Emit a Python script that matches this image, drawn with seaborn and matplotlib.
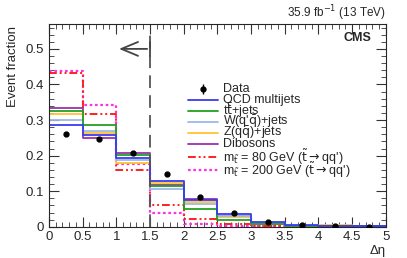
import numpy as np
import pandas as pd
import matplotlib
matplotlib.use("Agg")
import matplotlib.pyplot as plt
import seaborn as sns

sns.set_style("ticks")
plt.rcParams['font.family'] = ['Liberation Sans', 'DejaVu Sans']
plt.rcParams['mathtext.fontset'] = 'dejavusans'

# bin edges in delta eta
edges = [0, 0.5, 1.0, 1.5, 2.0, 2.5, 3.0, 3.5, 4.0, 4.5, 5.0]

qcd = [0.286, 0.257, 0.194, 0.130, 0.076, 0.037, 0.014, 0.006, 0.001, 0.001]
ttbar = [0.325, 0.286, 0.203, 0.115, 0.051, 0.019, 0.008, 0.002, 0.001, 0.001]
wjets = [0.300, 0.270, 0.189, 0.107, 0.064, 0.030, 0.010, 0.003, 0.001, 0.001]
zjets = [0.318, 0.265, 0.180, 0.123, 0.069, 0.028, 0.009, 0.003, 0.005, 0.001]
dibosons = [0.333, 0.250, 0.207, 0.118, 0.079, 0.030, 0.009, 0.002, 0.001, 0.001]
stop80 = [0.432, 0.318, 0.161, 0.062, 0.022, 0.007, 0.002, 0.001, 0.000, 0.000]
stop200 = [0.438, 0.343, 0.176, 0.040, 0.008, 0.003, 0.001, 0.000, 0.000, 0.000]

data_x = [0.25, 0.75, 1.25, 1.75, 2.25, 2.75, 3.25, 3.75, 4.25, 4.75]
data_y = [0.262, 0.246, 0.206, 0.147, 0.084, 0.040, 0.014, 0.004, 0.001, 0.000]
data_err = [0.003, 0.003, 0.003, 0.003, 0.002, 0.002, 0.001, 0.001, 0.001, 0.001]

series = [
    ("QCD multijets", qcd, "#3a3af0", "-", 1.3),
    (r"t$\bar{\mathrm{t}}$+jets", ttbar, "#22a022", "-", 1.3),
    (r"W(q'$\bar{\mathrm{q}}$)+jets", wjets, "#9db8e8", "-", 1.3),
    (r"Z(q$\bar{\mathrm{q}}$)+jets", zjets, "#ffc433", "-", 1.3),
    ("Dibosons", dibosons, "#9a33aa", "-", 1.3),
    (r"m$_{\tilde{\mathrm{t}}}$ = 80 GeV ($\tilde{\mathrm{t}}\rightarrow$qq')", stop80, "#ff2020", (0, (4, 1.5, 1, 1.5, 1, 1.5)), 1.4),
    (r"m$_{\tilde{\mathrm{t}}}$ = 200 GeV ($\tilde{\mathrm{t}}\rightarrow$qq')", stop200, "#ff33dd", (0, (1.2, 1.2)), 1.6),
]

fig, ax = plt.subplots(figsize=(4.07, 2.58), dpi=100)
fig.subplots_adjust(left=0.120, right=0.948, top=0.907, bottom=0.121)

centers = [(a + b) / 2 for a, b in zip(edges[:-1], edges[1:])]
for label, vals, col, ls, lw in series[::-1]:
    df = pd.DataFrame({"x": centers, "w": vals})
    sns.histplot(data=df, x="x", weights="w", bins=edges, element="step",
                 fill=False, color=col, linestyle=ls, linewidth=lw, ax=ax)

ax.errorbar(data_x, data_y, yerr=data_err, fmt="o", color="black",
            markersize=3.5, elinewidth=1, capsize=0, zorder=10)

# selection cut and arrow
ax.plot([1.5, 1.5], [0, 0.553], color="#555555", linestyle=(0, (7, 4)), linewidth=1.3)
ax.annotate("", xy=(1.0, 0.5), xytext=(1.5, 0.5),
            arrowprops=dict(arrowstyle="->,head_length=1.2,head_width=0.5",
                            color="#444444", lw=1.3))
ax.plot([1.5, 1.5], [0.48, 0.52], color="#444444", linewidth=1.3)

# legend drawn by hand so the rows are evenly spaced like the ROOT original
tr = ax.transAxes
lx0, lx1, tx = 0.413, 0.502, 0.517
rows_y = [0.680, 0.626, 0.572, 0.518, 0.464, 0.410, 0.345, 0.281]
ax.errorbar([(lx0 + lx1) / 2], [rows_y[0]], yerr=[0.025], fmt="o", color="black",
            markersize=3.5, elinewidth=1, capsize=0, transform=tr, clip_on=False)
ax.text(tx, rows_y[0], "Data", transform=tr, va="center", ha="left", fontsize=9)
for (label, vals, col, ls, lw), yy in zip(series, rows_y[1:]):
    ax.plot([lx0, lx1], [yy, yy], color=col, linestyle=ls, linewidth=lw,
            transform=tr, clip_on=False)
    ax.text(tx, yy, label, transform=tr, va="center", ha="left", fontsize=9)

ax.set_xlim(0, 5)
ax.set_ylim(0, 0.57)
ax.set_xticks(np.arange(0, 5.01, 0.5))
ax.set_xticklabels(["0", "0.5", "1", "1.5", "2", "2.5", "3", "3.5", "4", "4.5", "5"])
ax.set_yticks([0, 0.1, 0.2, 0.3, 0.4, 0.5])
ax.set_yticklabels(["0", "0.1", "0.2", "0.3", "0.4", "0.5"])
ax.set_xticks(np.arange(0, 5.01, 0.1), minor=True)
ax.set_yticks(np.arange(0, 0.57, 0.02), minor=True)
ax.tick_params(which="both", direction="in", top=True, right=True, labelsize=9.5,
               color="#333333")
ax.tick_params(which="major", length=7, width=0.8)
ax.tick_params(which="minor", length=3.5, width=0.6)
ax.tick_params(axis="x", pad=3)
for sp in ax.spines.values():
    sp.set_linewidth(0.8)

ax.set_xlabel("")
ax.set_ylabel("Event fraction", loc="top", fontsize=9.5)
ax.yaxis.set_label_coords(-0.09, 0.99)
ax.text(1.0, -0.09, "Δη", transform=ax.transAxes, ha="right", va="top", fontsize=9.5)

ax.text(0.958, 0.93, "CMS", transform=ax.transAxes, ha="right", va="center",
        fontsize=9, fontweight="bold")
ax.text(1.0, 1.055, r"35.9 fb$^{-1}$ (13 TeV)", transform=ax.transAxes,
        ha="right", va="center", fontsize=8.5)

fig.savefig("out.png", dpi=100)
